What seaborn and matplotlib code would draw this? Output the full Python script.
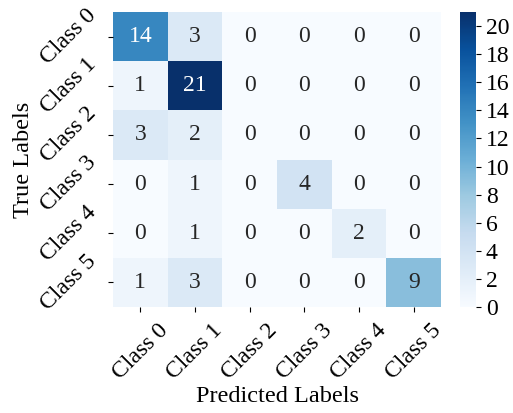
import numpy as np
import matplotlib
matplotlib.use("Agg")
import matplotlib.pyplot as plt
import seaborn as sns

classes = ["Class 0", "Class 1", "Class 2", "Class 3", "Class 4", "Class 5"]
row0 = [14, 3, 0, 0, 0, 0]
row1 = [1, 21, 0, 0, 0, 0]
row2 = [3, 2, 0, 0, 0, 0]
row3 = [0, 1, 0, 4, 0, 0]
row4 = [0, 1, 0, 0, 2, 0]
row5 = [1, 3, 0, 0, 0, 9]
cm = np.array([row0, row1, row2, row3, row4, row5])

plt.rcParams['font.family'] = ['Liberation Serif', 'DejaVu Serif']
fig = plt.figure(figsize=(5.13, 4.13), dpi=100)
ax = fig.add_axes([113/513, 1-307/413, (441-113)/513, (307-12)/413])
cax = fig.add_axes([460/513, 1-307/413, 16/513, (307-12)/413])
sns.heatmap(cm, annot=True, fmt="d", cmap="Blues", ax=ax, cbar_ax=cax,
            xticklabels=classes, yticklabels=classes,
            annot_kws={"fontsize": 17})
ax.set_xlabel("Predicted Labels", fontsize=17.5, labelpad=2)
ax.set_ylabel("True Labels", fontsize=17.5, labelpad=2)
ax.set_xticklabels(classes, rotation=45, fontsize=17)
ax.set_yticklabels(classes, rotation=45, fontsize=17)
ax.tick_params(axis='both', pad=5.5)
cax.set_yticks(range(0, 21, 2))
cax.tick_params(labelsize=17)
fig.savefig("out.png", dpi=100)
